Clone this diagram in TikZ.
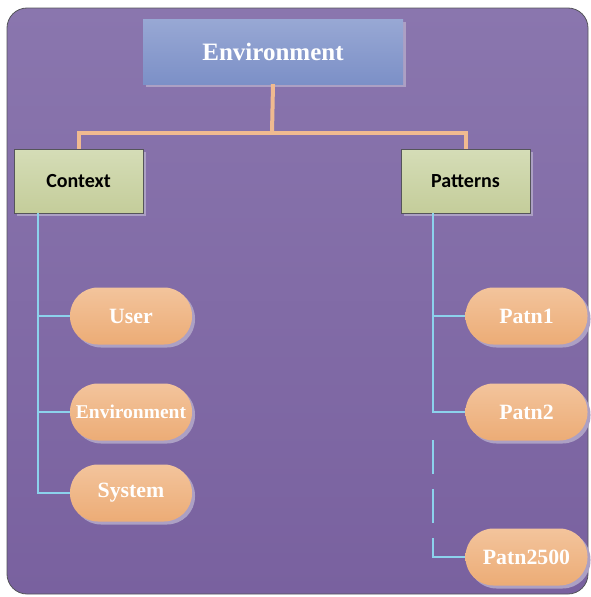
\documentclass[tikz,border=0pt]{standalone}
\usepackage{fontspec}
\setmainfont{Liberation Serif}
\newfontfamily\boxfont{Carlito}
\usepackage{tikz}
\usetikzlibrary{positioning,shadows}

\definecolor{bgtop}{RGB}{138,118,174}
\definecolor{bgbottom}{RGB}{121,97,159}
\definecolor{bgborder}{RGB}{85,85,90}
\definecolor{titletop}{RGB}{152,168,212}
\definecolor{titlebottom}{RGB}{124,144,199}
\definecolor{greentop}{RGB}{213,221,183}
\definecolor{greenbottom}{RGB}{196,205,154}
\definecolor{pilltop}{RGB}{243,196,156}
\definecolor{pillbottom}{RGB}{236,172,118}
\definecolor{busline}{RGB}{240,186,144}
\definecolor{branchline}{RGB}{140,210,236}
\definecolor{shadowcol}{RGB}{172,160,196}

\begin{document}
\begin{tikzpicture} [x=1pt,y=-1pt,
	background/.style={
		draw=bgborder,line width=0.8pt,top color=bgtop,bottom color=bgbottom,
		rounded corners=20pt},
	title box/.style={
		rectangle,draw=none,top color=titletop,bottom color=titlebottom,
		minimum width=260pt,minimum height=65pt,inner sep=0pt,
		drop shadow={shadow xshift=3pt,shadow yshift=-3pt,fill=shadowcol,opacity=1},
		text=white,font=\fontsize{25}{28}\selectfont\bfseries},
	group box/.style={
		rectangle,draw=bgborder,thin,top color=greentop,bottom color=greenbottom,
		minimum width=129pt,minimum height=64pt,inner sep=0pt,
		drop shadow={shadow xshift=3pt,shadow yshift=-3pt,fill=shadowcol,opacity=1},
		font=\boxfont\fontsize{20}{22}\selectfont\bfseries},
	item pill/.style={
		rectangle,draw=none,top color=pilltop,bottom color=pillbottom,
		rounded corners=28pt,minimum width=122pt,minimum height=57pt,inner sep=0pt,
		drop shadow={shadow xshift=3pt,shadow yshift=-3pt,fill=shadowcol,opacity=1},
		text=white,font=\fontsize{21.8}{24}\selectfont\bfseries},
	long pill/.style={
		item pill,font=\fontsize{19.5}{22}\selectfont\bfseries},
	bus/.style={
		draw=busline,line width=4pt},
	bus shade/.style={
		draw=shadowcol,line width=3pt},
	branch/.style={
		draw=branchline,line width=2pt},
	branch shade/.style={
		draw=shadowcol,line width=1.4pt}]
\useasboundingbox (0,0) rectangle (590,597);
\path[background] (7,8) rectangle (588,594);
% top of the tree
\node[title box] (environment) 	at (273,51.5) {Environment};
\node[group box] (context) 		at (78.5,181) {Context};
\node[group box] (patterns) 		at (465.5,181) {Patterns};
% leaves
\node[item pill] (user) 		at (131,316) {User};
\node[long pill] (env item) 		at (131,412) {Environment};
\node[item pill] (system) 		at (131,493) {System};
\node[item pill] (patn1) 		at (526.5,316) {Patn1};
\node[item pill] (patn2) 		at (526.5,412) {Patn2};
\node[item pill] (patn2500) 		at (526.5,557) {Patn2500};
\coordinate (bus mid) 		at (272,133);
\coordinate (ctx trunk) 		at (38,213);
\coordinate (pat trunk) 		at (433,213);
\coordinate (dash a top) 		at (433,440);
\coordinate (dash a end) 		at (433,474);
\coordinate (dash b top) 		at (433,489);
\coordinate (dash b end) 		at (433,523);
\coordinate (dash c top) 		at (433,538);
% shades under the connectors
\begin{scope}[shift={(2,2)}]
\draw[bus shade] (environment.south) -- (bus mid);
\draw[bus shade] (context.north) |- (bus mid) -| (patterns.north);
\draw[branch shade] (ctx trunk) |- (user.west);
\draw[branch shade] (ctx trunk) |- (env item.west);
\draw[branch shade] (ctx trunk) |- (system.west);
\draw[branch shade] (pat trunk) |- (patn1.west);
\draw[branch shade] (pat trunk) |- (patn2.west);
\draw[branch shade] (dash a top) -- (dash a end);
\draw[branch shade] (dash b top) -- (dash b end);
\draw[branch shade] (dash c top) |- (patn2500.west);
\end{scope}
\draw[bus] (environment.south) -- (bus mid);
\draw[bus] (context.north) |- (bus mid) -| (patterns.north);
\draw[branch] (ctx trunk) |- (user.west);
\draw[branch] (ctx trunk) |- (env item.west);
\draw[branch] (ctx trunk) |- (system.west);
\draw[branch] (pat trunk) |- (patn1.west);
\draw[branch] (pat trunk) |- (patn2.west);
\draw[branch] (dash a top) -- (dash a end);
\draw[branch] (dash b top) -- (dash b end);
\draw[branch] (dash c top) |- (patn2500.west);
\end{tikzpicture}
\end{document}
